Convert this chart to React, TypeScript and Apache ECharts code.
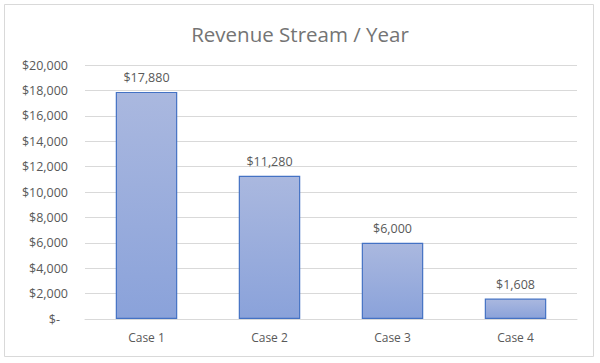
import React, { useEffect, useRef } from "react";
import * as echarts from "echarts";

const categories = ["Case 1", "Case 2", "Case 3", "Case 4"];
const revenue = [17880, 11280, 6000, 1608];
const yTicks = { min: 0, max: 20000, interval: 2000 };
const title = "Revenue Stream / Year";

const fmt = (v: number) => "$" + v.toLocaleString("en-US");

export default function App() {
  const ref = useRef<HTMLDivElement>(null);
  useEffect(() => {
    if (!ref.current) return;
    const chart = echarts.init(ref.current, null, { renderer: "svg" });
    const font = "Open Sans, Lato, sans-serif";
    chart.setOption({
      animation: false,
      backgroundColor: "#ffffff",
      title: {
        text: title,
        left: "center",
        top: 18,
        textStyle: { color: "#747474", fontSize: 20.5, fontWeight: "normal", fontFamily: font },
      },
      graphic: [
        {
          type: "rect",
          shape: { x: 4.5, y: 4.5, width: 589, height: 352 },
          style: { fill: "none", stroke: "#d9d9d9", lineWidth: 1 },
          silent: true,
        },
      ],
      grid: { left: 85, right: 23, top: 65, bottom: 44 },
      xAxis: {
        type: "category",
        data: categories,
        axisLine: { lineStyle: { color: "#d9d9d9" } },
        axisTick: { show: false },
        axisLabel: { color: "#595959", fontSize: 12, fontFamily: font, margin: 12 },
      },
      yAxis: {
        type: "value",
        min: yTicks.min,
        max: yTicks.max,
        interval: yTicks.interval,
        axisLine: { show: false },
        axisTick: { show: false },
        splitLine: { lineStyle: { color: "#d9d9d9" } },
        axisLabel: {
          color: "#595959",
          fontSize: 12.5,
          fontFamily: font,
          margin: 17,
          formatter: (v: number) => (v === 0 ? "{z|$-}" : fmt(v)),
          rich: { z: { color: "#595959", fontSize: 12.5, fontFamily: font, padding: [0, 8, 0, 0] } },
        },
      },
      series: [
        {
          type: "bar",
          data: revenue,
          barWidth: "50%",
          itemStyle: {
            color: new echarts.graphic.LinearGradient(0, 0, 0, 1, [
              { offset: 0, color: "#aab8df" },
              { offset: 1, color: "#8aa2da" },
            ]),
            borderColor: "#4472c4",
            borderWidth: 1.2,
          },
          label: {
            show: true,
            position: "top",
            distance: 8,
            color: "#595959",
            fontSize: 12.5,
            fontFamily: font,
            formatter: (p: any) => fmt(p.value),
          },
        },
      ],
    });
    return () => chart.dispose();
  }, []);
  return (
    <div
      ref={ref}
      style={{ position: "fixed", left: 0, top: 0, width: 600, height: 363 }}
    />
  );
}
